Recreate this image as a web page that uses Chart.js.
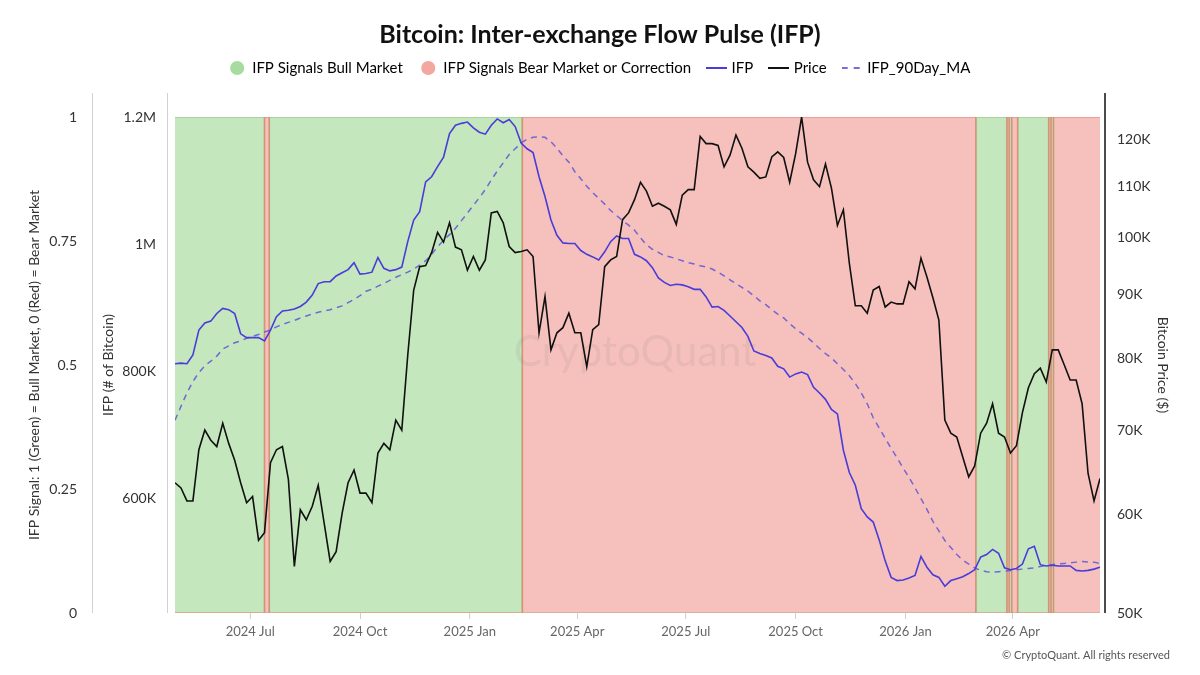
<!DOCTYPE html>
<html>
<head>
<meta charset="utf-8">
<title>Bitcoin: Inter-exchange Flow Pulse (IFP)</title>
<script src="https://cdn.jsdelivr.net/npm/chart.js@4.4.1/dist/chart.umd.min.js"></script>
<style>
  html, body { margin: 0; padding: 0; background: #fff; }
</style>
</head>
<body>
<canvas id="ifpChart" width="1200" height="675"></canvas>
<script>
const FONT = "Lato, 'Open Sans', sans-serif"

// readings are taken every 5 days, starting on firstDate
const firstDate = '2024-04-29'
const lastDate = '2026-06-13'
const stepDays = 5

const price = [
  63600, 63000, 61500, 61500, 67600, 70100, 68800, 68000, 71000, 68400,
  66300, 63600, 61300, 62000, 57200, 58000, 66000, 67600, 68000, 64000,
  54500, 60500, 59400, 60900, 63300, 59000, 55000, 56000, 60100, 63600,
  65100, 62400, 62400, 61300, 67200, 68400, 67600, 71400, 70100, 80500,
  90800, 94800, 95000, 97300, 101000, 99200, 102800, 98300, 97800, 94200,
  96600, 94200, 96000, 104700, 105000, 102800, 98400, 97300, 97500, 97800,
  96600, 83900, 89700, 81300, 83900, 84700, 87000, 83900, 83900, 78800,
  84400, 85200, 94800, 96000, 96600, 103400, 104700, 107300, 110800, 109000,
  106000, 106600, 106000, 105300, 102500, 108200, 109300, 109300, 120600, 119000,
  119000, 118600, 114000, 116500, 120900, 118000, 114000, 112900, 111600, 111900,
  116100, 117200, 116000, 110800, 116800, 125000, 115000, 111300, 109900, 114600,
  109600, 102300, 105300, 95400, 88200, 88200, 87000, 90800, 91400, 88000,
  88800, 88500, 88500, 92200, 91000, 96300, 93000, 89500, 85900, 71400,
  69700, 69200, 66700, 64300, 65600, 69700, 71000, 73600, 69700, 69200,
  67200, 68100, 72400, 75800, 77800, 78600, 76600, 81300, 81300, 79100,
  76900, 76900, 73600, 64700, 61500, 64100
]

const ifp = [
  812000, 813000, 812000, 826000, 865000, 876000, 879000, 891000, 899000, 897000,
  891000, 859000, 853000, 853000, 853000, 848000, 865000, 886000, 895000, 896000,
  898000, 902000, 909000, 920000, 938000, 941000, 941000, 950000, 955000, 960000,
  971000, 953000, 954000, 956000, 979000, 962000, 958000, 960000, 964000, 1004000,
  1038000, 1051000, 1098000, 1106000, 1122000, 1137000, 1174000, 1187000, 1190000, 1192000,
  1183000, 1176000, 1173000, 1187000, 1197000, 1191000, 1196000, 1185000, 1159000, 1150000,
  1144000, 1106000, 1075000, 1038000, 1014000, 1002000, 1001000, 1001000, 990000, 984000,
  980000, 975000, 988000, 1004000, 1013000, 1009000, 1009000, 984000, 980000, 974000,
  963000, 947000, 940000, 935000, 937000, 936000, 933000, 929000, 929000, 917000,
  901000, 902000, 896000, 887000, 878000, 869000, 855000, 832000, 828000, 825000,
  821000, 808000, 804000, 791000, 796000, 799000, 795000, 775000, 766000, 756000,
  740000, 733000, 676000, 641000, 621000, 584000, 571000, 563000, 535000, 502000,
  476000, 471000, 472000, 475000, 479000, 509000, 492000, 480000, 476000, 462000,
  471000, 474000, 477000, 482000, 488000, 508000, 512000, 520000, 514000, 491000,
  488000, 490000, 497000, 521000, 525000, 496000, 494000, 495000, 494000, 494000,
  494000, 487000, 486000, 487000, 489000, 492000
]

const ifp90 = [
  723000, 745000, 766000, 784000, 798000, 809000, 816000, 824000, 835000, 840000,
  845000, 848000, 852000, 855000, 858000, 862000, 865000, 870000, 874000, 877000,
  880000, 884000, 887000, 890000, 893000, 895000, 897000, 900000, 903000, 908000,
  913000, 919000, 926000, 929000, 934000, 938000, 943000, 948000, 952000, 956000,
  961000, 967000, 974000, 984000, 996000, 1006000, 1015000, 1025000, 1037000, 1049000,
  1061000, 1073000, 1086000, 1101000, 1115000, 1128000, 1141000, 1150000, 1159000, 1165000,
  1168000, 1169000, 1168000, 1161000, 1151000, 1139000, 1129000, 1114000, 1103000, 1091000,
  1081000, 1072000, 1063000, 1053000, 1045000, 1037000, 1030000, 1022000, 1010000, 999000,
  992000, 987000, 982000, 980000, 977000, 974000, 971000, 969000, 966000, 964000,
  961000, 956000, 950000, 944000, 938000, 932000, 926000, 919000, 911000, 905000,
  897000, 890000, 884000, 875000, 867000, 860000, 853000, 845000, 836000, 828000,
  821000, 812000, 803000, 793000, 781000, 766000, 749000, 727000, 711000, 695000,
  679000, 664000, 648000, 633000, 617000, 600000, 583000, 564000, 549000, 534000,
  523000, 512000, 503000, 497000, 491000, 487000, 485000, 484000, 485000, 486000,
  487000, 488000, 489000, 490000, 491000, 493000, 495000, 496000, 497000, 498000,
  499000, 500000, 501000, 500000, 500000, 498000
]

// signal holds from each date until the next one: 1 = bull, 0 = bear
const signalDates = ['2024-04-29', '2024-07-13', '2024-07-17', '2025-02-14', '2026-03-01', '2026-03-27',
  '2026-03-29', '2026-03-31', '2026-04-05', '2026-05-01', '2026-05-03', '2026-05-05']
const signalValues = [1, 0, 1, 0, 1, 0, 1, 0, 1, 0, 1, 0]

const xTicks = ['2024-07-01', '2024-10-01', '2025-01-01', '2025-04-01', '2025-07-01', '2025-10-01', '2026-01-01', '2026-04-01']
const priceTicks = [50000, 60000, 70000, 80000, 90000, 100000, 110000, 120000]
const ifpTicks = [600000, 800000, 1000000, 1200000]
const months = ['Jan', 'Feb', 'Mar', 'Apr', 'May', 'Jun', 'Jul', 'Aug', 'Sep', 'Oct', 'Nov', 'Dec']

function toDay(s) {
  const [y, m, d] = s.split('-').map(Number)
  return Date.UTC(y, m - 1, d) / 86400000
}

function dayLabel(day) {
  const d = new Date(day * 86400000)
  return d.getUTCFullYear() + ' ' + months[d.getUTCMonth()]
}

function series(values) {
  const start = toDay(firstDate)
  return values.map((v, i) => ({x: start + i * stepDays, y: v}))
}

function signalPoints(target) {
  const pts = signalDates.map((d, i) => ({x: toDay(d), y: signalValues[i] === target ? 1 : 0}))
  pts.push({x: toDay(lastDate), y: pts[pts.length - 1].y})
  return pts
}

function lineIcon(color, dash) {
  const c = document.createElement('canvas')
  c.width = 21
  c.height = 4
  const g = c.getContext('2d')
  g.strokeStyle = color
  g.lineWidth = 2
  g.setLineDash(dash)
  g.beginPath()
  g.moveTo(0, 2)
  g.lineTo(21, 2)
  g.stroke()
  return c
}

function fixedTicks(list) {
  return scale => { scale.ticks = list.map(v => ({value: v})) }
}

const extras = {
  id: 'extras',
  beforeInit(chart) {
    const legend = chart.legend
    if (!legend) return
    const fit = legend.fit
    legend.fit = function () {
      fit.call(this)
      this.height += 31.5
    }
  },
  afterDatasetDraw(chart, args) {
    if (args.index !== 1) return
    const ctx = chart.ctx
    ctx.save()
    ctx.font = '42px ' + FONT
    ctx.fillStyle = 'rgba(90, 90, 90, 0.09)'
    ctx.textAlign = 'center'
    ctx.textBaseline = 'middle'
    ctx.fillText('CryptoQuant', 635, 352)
    ctx.restore()
  },
  afterDraw(chart) {
    const {ctx, chartArea, scales} = chart
    const top = chartArea.top - 24
    ctx.save()
    ctx.lineWidth = 1
    ctx.strokeStyle = '#d2d2d2'
    const leftLines = [scales.signal.right + 0.5, scales.ifp.right - 7.5]
    leftLines.forEach(x => {
      ctx.beginPath()
      ctx.moveTo(x, top)
      ctx.lineTo(x, chartArea.bottom)
      ctx.stroke()
    })
    ctx.lineWidth = 1.5
    ctx.strokeStyle = '#111'
    ctx.beginPath()
    ctx.moveTo(scales.price.left + 5, top)
    ctx.lineTo(scales.price.left + 5, chartArea.bottom)
    ctx.stroke()

    ctx.font = '11px ' + FONT
    ctx.fillStyle = '#555'
    ctx.textAlign = 'right'
    ctx.textBaseline = 'middle'
    ctx.fillText('\u00a9 CryptoQuant. All rights reserved', 1170, 655)
    ctx.restore()
  }
}

const tickFont = {family: FONT, size: 14}
const titleFont = {family: FONT, size: 14}

new Chart(document.getElementById('ifpChart'), {
  type: 'line',
  data: {
    datasets: [
      {
        label: 'IFP Signals Bull Market',
        data: signalPoints(1),
        yAxisID: 'signal',
        stepped: 'before',
        fill: 'origin',
        backgroundColor: 'rgba(140, 208, 124, 0.5)',
        borderColor: 'rgba(150, 200, 130, 0.8)',
        borderWidth: 1.5,
        pointRadius: 0,
        order: 5,
        legendIcon: 'circle',
        legendColor: '#a8dba0'
      },
      {
        label: 'IFP Signals Bear Market or Correction',
        data: signalPoints(0),
        yAxisID: 'signal',
        stepped: 'before',
        fill: 'origin',
        backgroundColor: 'rgba(238, 132, 124, 0.5)',
        borderColor: 'rgba(222, 130, 110, 0.7)',
        borderWidth: 1.5,
        pointRadius: 0,
        order: 4,
        legendIcon: 'circle',
        legendColor: '#f2a7a1'
      },
      {
        label: 'IFP',
        data: series(ifp),
        yAxisID: 'ifp',
        borderColor: '#4a3cd9',
        borderWidth: 1.6,
        pointRadius: 0,
        order: 2,
        legendIcon: lineIcon('#4a3cd9', [])
      },
      {
        label: 'Price',
        data: series(price),
        yAxisID: 'price',
        borderColor: '#111',
        borderWidth: 1.6,
        pointRadius: 0,
        order: 1,
        legendIcon: lineIcon('#111', [])
      },
      {
        label: 'IFP_90Day_MA',
        data: series(ifp90),
        yAxisID: 'ifp',
        borderColor: 'rgba(95, 85, 215, 0.85)',
        borderWidth: 1.5,
        borderDash: [6, 5],
        pointRadius: 0,
        order: 3,
        legendIcon: lineIcon('rgba(95, 85, 215, 0.85)', [6, 6])
      }
    ]
  },
  options: {
    responsive: false,
    animation: false,
    layout: {padding: 0},
    plugins: {
      tooltip: {enabled: false},
      title: {
        display: true,
        text: 'Bitcoin: Inter-exchange Flow Pulse (IFP)',
        color: '#111',
        font: {family: FONT, size: 25, weight: 'bold'},
        padding: {top: 20, bottom: -7.5}
      },
      legend: {
        position: 'top',
        labels: {
          usePointStyle: true,
          boxHeight: 10,
          padding: 18,
          color: '#333',
          font: {family: FONT, size: 15},
          generateLabels: chart => chart.data.datasets.map((ds, i) => ({
            text: ds.label,
            datasetIndex: i,
            fillStyle: ds.legendColor || ds.borderColor,
            strokeStyle: ds.legendColor || ds.borderColor,
            lineWidth: 0,
            pointStyle: ds.legendIcon,
            hidden: false
          }))
        }
      }
    },
    scales: {
      x: {
        type: 'linear',
        min: toDay(firstDate),
        max: toDay(lastDate),
        afterBuildTicks: fixedTicks(xTicks.map(toDay)),
        afterFit: s => { s.height = 62 },
        ticks: {
          callback: v => dayLabel(v),
          color: '#666',
          font: {family: FONT, size: 13},
          padding: 5,
          autoSkip: false,
          maxRotation: 0
        },
        grid: {drawOnChartArea: false, color: '#cfcfcf', tickLength: 6},
        border: {display: false}
      },
      signal: {
        position: 'left',
        weight: 2,
        min: 0,
        max: 1,
        afterFit: s => { s.width = 92 },
        ticks: {stepSize: 0.25, padding: 15, color: '#333', font: tickFont, callback: v => String(v)},
        grid: {display: false, drawTicks: false},
        border: {display: false},
        title: {
          display: true,
          text: 'IFP Signal: 1 (Green) = Bull Market, 0 (Red) = Bear Market',
          color: '#333',
          font: titleFont,
          padding: {top: 26, bottom: 0}
        }
      },
      ifp: {
        position: 'left',
        weight: 1,
        min: 420000,
        max: 1200000,
        afterBuildTicks: fixedTicks(ifpTicks),
        afterFit: s => { s.width = 83 },
        ticks: {
          padding: 19,
          color: '#333',
          font: tickFont,
          callback: v => v >= 1000000 ? (v / 1000000) + 'M' : (v / 1000) + 'K'
        },
        grid: {display: false, drawTicks: false},
        border: {display: false},
        title: {display: true, text: 'IFP (# of Bitcoin)', color: '#333', font: titleFont, padding: {top: 8, bottom: 0}}
      },
      price: {
        type: 'logarithmic',
        position: 'right',
        min: 50000,
        max: 125000,
        afterBuildTicks: fixedTicks(priceTicks),
        afterFit: s => { s.width = 100 },
        ticks: {padding: 17, color: '#333', font: tickFont, callback: v => (v / 1000) + 'K'},
        grid: {display: false, drawTicks: false},
        border: {display: false},
        title: {display: true, text: 'Bitcoin Price ($)', color: '#333', font: titleFont, padding: {top: 29, bottom: 0}}
      }
    }
  },
  plugins: [extras]
})
</script>
</body>
</html>
